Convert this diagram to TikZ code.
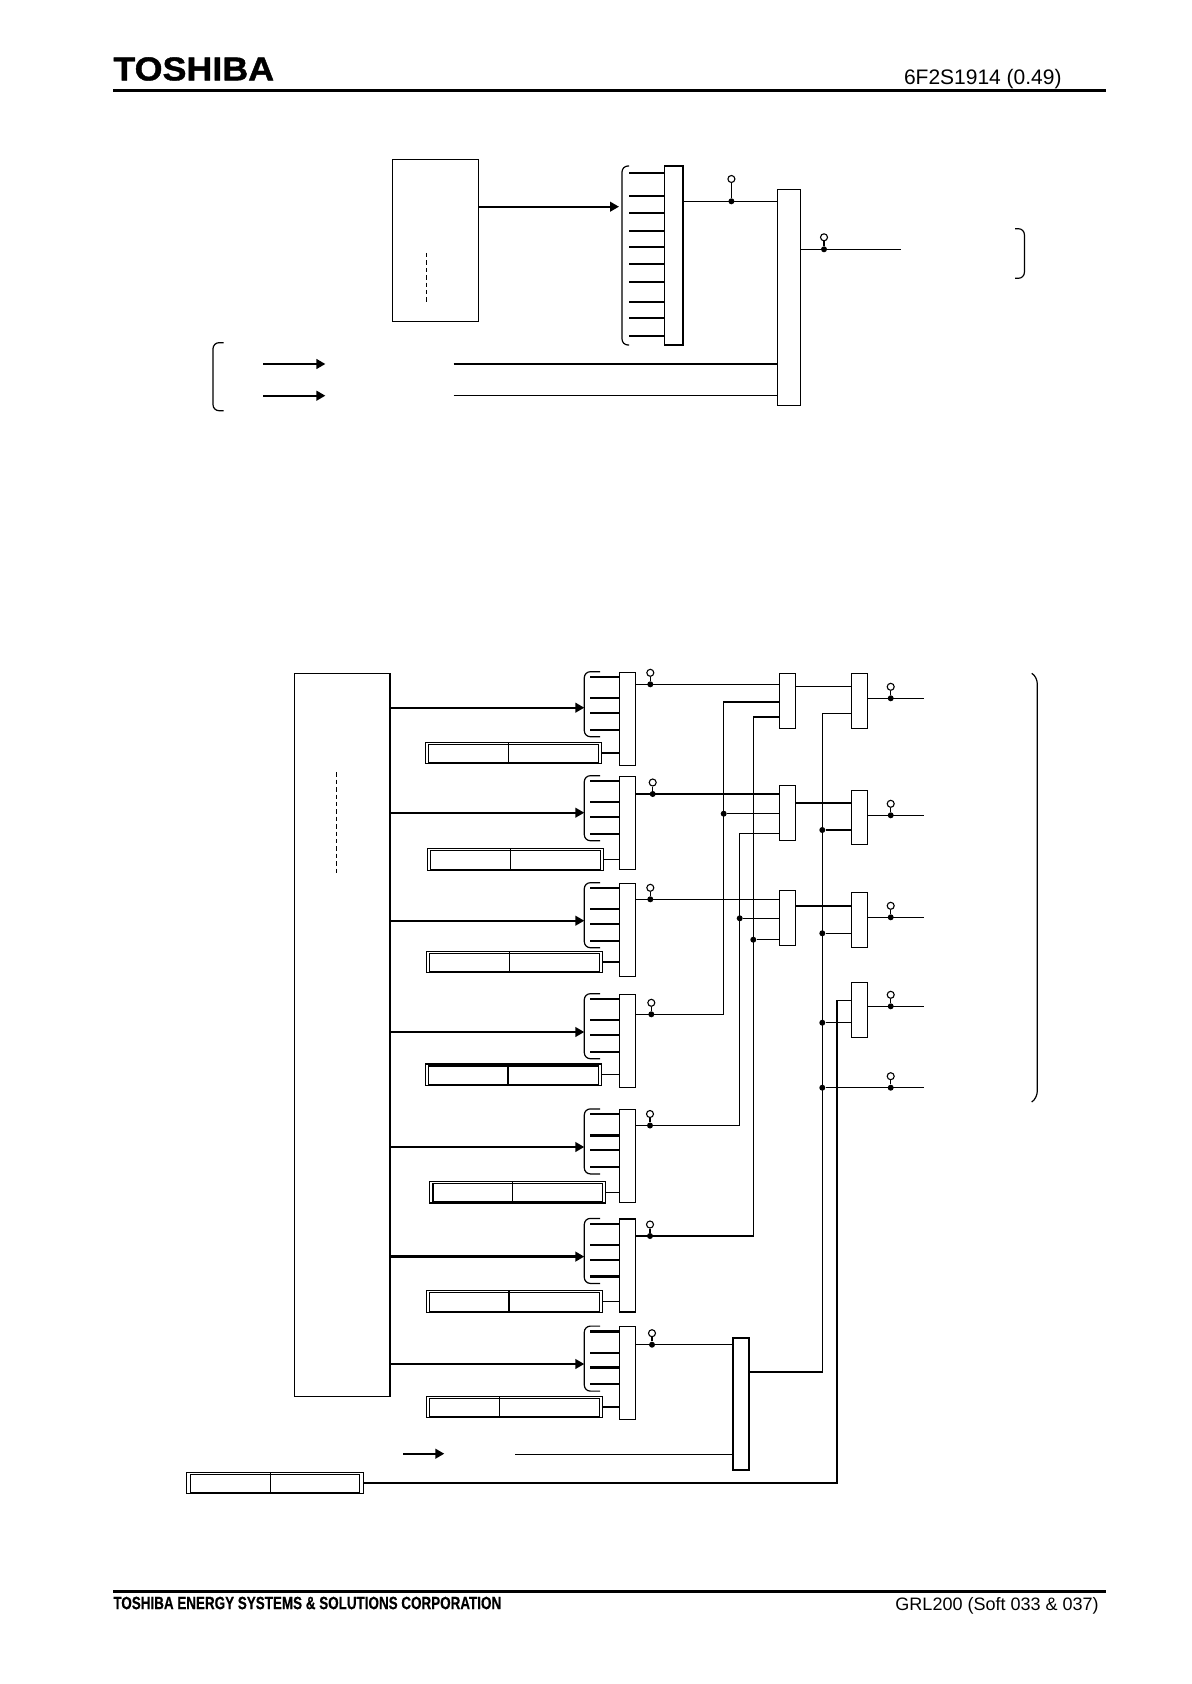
\documentclass[tikz,border=0pt]{standalone}
\usepackage{fontspec}
\setmainfont{Liberation Sans}
\newfontfamily\logofont[FakeStretch=1.08,BoldFeatures={FakeBold=1.2}]{Liberation Sans}
\newfontfamily\footfont[FakeStretch=0.755,BoldFeatures={FakeBold=0.4}]{Liberation Sans}
\usetikzlibrary{arrows.meta, positioning}

\begin{document}
\begin{tikzpicture}[
  x=0.5pt, y=-0.5pt,
  gate/.style={rectangle, draw, anchor=north west, inner sep=0pt, outer sep=0pt, minimum width=8pt, line width=0.7pt},
  src/.style={gate, minimum width=47.65pt, minimum height=361.7pt},
  setouter/.style={rectangle, draw, inner sep=0pt, outer sep=0pt, minimum width=88.2pt, minimum height=10.7pt, line width=0.6pt},
  setinner/.style={setouter, minimum width=84.7pt, minimum height=9.2pt},
  wire/.style={line width=0.65pt},
  heavy/.style={line width=1.1pt},
  lead/.style={line width=1.1pt},
  bus/.style={-{Stealth[length=4.5pt,width=4.8pt,inset=0pt]}, line width=1.15pt},
  paren/.style={line width=0.6pt, rounded corners=3pt},
  dot/.style={circle, fill=black, inner sep=0pt, minimum size=3pt},
  ring/.style={circle, draw, fill=white, inner sep=0pt, minimum size=3.5pt, line width=0.55pt},
  plate/.style={inner sep=0pt, font=\fontsize{10.5pt}{12pt}\selectfont}
]
\useasboundingbox (0,0) rectangle (1191,1684);

% page furniture
\node[plate, anchor=west, font=\logofont\bfseries\fontsize{16.6pt}{18pt}\selectfont] (logo) at (113,69) {TOSHIBA};
\node[plate, anchor=east] (docno) at (1062,79) {6F2S1914 (0.49)};
\node[plate, anchor=west, font=\footfont\bfseries\fontsize{8.9pt}{10pt}\selectfont] (company) at (113,1603) {TOSHIBA ENERGY SYSTEMS \& SOLUTIONS CORPORATION};
\node[plate, anchor=east, font=\fontsize{9pt}{11pt}\selectfont] (model) at (1099,1606) {GRL200 (Soft 033 \& 037)};
\draw[line width=1.5pt] (113,91) -- (1106,91);
\draw[line width=1.5pt] (113,1591) -- (1106,1591);

% upper scheme
\node[gate, minimum width=43pt, minimum height=81.2pt] (topsrc) at (392.4,159.3) {};
\node[gate, minimum width=9.2pt, minimum height=89.5pt] (topbus) at (664.4,166) {};
\node[gate, minimum width=11.5pt, minimum height=108.2pt] (topgate) at (777.4,189.3) {};
\coordinate (toparrow) at (619,206.7);
\coordinate (topi1) at (453.5,364);
\coordinate (topi2) at (453.5,395.7);
\coordinate (topo) at (901,249.3);
\node[dot] (dtop1) at (731.4,201.3) {};
\node[ring] (rtop1) at (731.4,179) {};
\node[dot] (dtop2) at (824,249.3) {};
\node[ring] (rtop2) at (824,237.3) {};

\draw[wire, dashed, dash pattern=on 2.2pt off 1.5pt] (426.5,253) -- (426.5,302);
\draw[bus] (topsrc.east |- toparrow) -- (toparrow);
\draw[paren] (629,166) -- (622,166) -- (622,345) -- (629,345);
\foreach \y in {172.7,196,213,231,247,263.7,281.7,301.7,318.3,336.3}
  \draw[lead] (629,\y) -- (topbus.west |- 0,\y);
\draw[wire] (topbus.east |- dtop1) -- (topgate.west |- dtop1);
\draw[wire] (dtop1) -- (rtop1);
\draw[wire] (topgate.east |- topo) -- (topo);
\draw[wire] (dtop2) -- (rtop2);
\draw[wire] (topi1) -- (topgate.west |- topi1);
\draw[wire] (topi2) -- (topgate.west |- topi2);
\draw[bus] (263,364) -- (325.4,364);
\draw[bus] (263,395.7) -- (325.4,395.7);
\draw[paren] (223.5,342.7) -- (213,342.7) -- (213,410.7) -- (223.5,410.7);
\draw[paren] (1015,228.7) -- (1024.4,228.7) -- (1024.4,278.3) -- (1015,278.3);

% lower scheme
\node[src] (big) at (294.7,673.3) {};
\draw[wire, dashed, dash pattern=on 2.2pt off 1.5pt] (336.3,772.3) -- (336.3,875);

\foreach \n/\t/\a/\sx/\sy/\dv in {
  1/672.3/35.4/513.5/753/508.3,
  2/776.3/36.4/515.5/859.5/510.3,
  3/883.3/37.4/514.5/962/509.3,
  4/994.3/37.7/513.4/1074.7/508,
  5/1109.5/37.5/517.6/1192.2/512.3,
  6/1219/37.6/514.5/1301.5/509,
  7/1326.7/37.3/514.5/1407/499.6} {
  \node[gate, minimum width=8.2pt, minimum height=46.5pt] (m\n) at (619.3,\t) {};
  \node[setouter] (s\n) at (\sx,\sy) {};
  \node[setinner] (t\n) at (\sx,\sy+0.5) {};
  \draw[wire] (s\n.north -| \dv,0) -- (s\n.south -| \dv,0);
  \draw[wire] (s\n.east) -- (m\n.west |- s\n.east);
  \coordinate (h\n) at (584.3,\t+\a);
  \draw[bus] (big.east |- h\n) -- (h\n);
  \draw[paren] (600,\t-0.6) -- (584.3,\t-0.6) -- (584.3,\t+64.4) -- (600,\t+64.4);
  \foreach \o in {4.7,26,40.7,57.4}
    \draw[lead] (590,\t+\o) -- (m\n.west |- 0,\t+\o);
}

\node[gate] (g7) at (733,1338) [minimum height=66pt] {};
\node[gate, minimum height=27.5pt] (a1) at (779.7,673.3) {};
\node[gate, minimum height=27.5pt] (a2) at (779.7,785.3) {};
\node[gate, minimum height=27.5pt] (a3) at (779.7,890.7) {};
\node[gate, minimum height=27.5pt] (b1) at (851.3,673.3) {};
\node[gate, minimum height=27pt] (b2) at (851.3,790.3) {};
\node[gate, minimum height=27.5pt] (b3) at (851.3,892.7) {};
\node[gate, minimum height=27.5pt] (b4) at (851.3,982.3) {};

\node[setouter] (s8) at (275,1483) {};
\node[setinner] (t8) at (275,1483.5) {};
\draw[wire] (s8.north -| 270.6,0) -- (s8.south -| 270.6,0);

% taps on the outputs
\foreach \n/\x/\y in {1/650.3/684.3, 2/652.7/794, 3/650.3/899.3, 4/651.3/1014.3, 5/650/1125.5,
  6/650/1236, 7/652/1344.7, b1/890.7/698.3, b2/890.7/815.3, b3/890.7/917.3, b4/890.7/1006.3, b5/890.7/1087.7} {
  \node[dot] (d\n) at (\x,\y) {};
  \node[ring] (r\n) at (\x,\y-11.5) {};
  \draw[wire] (d\n) -- (r\n);
}

\coordinate (w4) at (723.7,702);
\coordinate (w5) at (739.7,833.7);
\coordinate (w6) at (753.3,717);
\coordinate (w7) at (822.3,713.3);
\coordinate (w8) at (837,1000.3);
\coordinate (i3) at (515,1454.3);
\node[dot] (j4) at (723.7,813.7) {};
\node[dot] (j5) at (739.7,918.3) {};
\node[dot] (j6) at (753.3,939.7) {};
\node[dot] (jb2) at (822.3,830) {};
\node[dot] (jb3) at (822.3,933.3) {};
\node[dot] (jb4) at (822.3,1022.7) {};
\node[dot] (jb5) at (822.3,1087.7) {};
\coordinate (ob1) at (924,698.3);
\coordinate (ob2) at (924,815.3);
\coordinate (ob3) at (924,917.3);
\coordinate (ob4) at (924,1006.3);
\coordinate (ob5) at (924,1087.7);

\draw[wire] (m1.east |- d1) -- (a1.west |- d1);
\draw[wire] (m2.east |- d2) -- (a2.west |- d2);
\draw[wire] (m3.east |- d3) -- (a3.west |- d3);
\draw[wire] (m4.east |- d4) -| (w4) -- (a1.west |- w4);
\draw[wire] (m5.east |- d5) -| (w5) -- (a2.west |- w5);
\draw[wire] (m6.east |- d6) -| (w6) -- (a1.west |- w6);
\draw[wire] (m7.east |- d7) -- (g7.west |- d7);
\draw[wire] (j4) -- (a2.west |- j4);
\draw[wire] (j5) -- (a3.west |- j5);
\draw[wire] (j6) -- (a3.west |- j6);
\draw[wire] (a1.east |- 0,686.3) -- (b1.west |- 0,686.3);
\draw[heavy] (a2.east |- 0,802.7) -- (b2.west |- 0,802.7);
\draw[heavy] (a3.east |- 0,905.7) -- (b3.west |- 0,905.7);
\draw[wire] (g7.east |- 0,1372) -| (w7) -- (b1.west |- w7);
\draw[heavy] (jb2) -- (b2.west |- jb2);
\draw[wire] (jb3) -- (b3.west |- jb3);
\draw[wire] (jb4) -- (b4.west |- jb4);
\draw[wire] (jb5) -- (ob5);
\draw[wire] (b1.east |- ob1) -- (ob1);
\draw[wire] (b2.east |- ob2) -- (ob2);
\draw[wire] (b3.east |- ob3) -- (ob3);
\draw[wire] (b4.east |- ob4) -- (ob4);
\draw[wire] (s8.east) -| (w8) -- (b4.west |- w8);
\draw[wire] (i3) -- (g7.west |- i3);
\draw[bus] (403.3,1453.7) -- (444.3,1453.7);
\draw[paren] (1031.7,673.3) .. controls (1035,675) and (1037.3,680) .. (1037.3,690) -- (1037.3,1085) .. controls (1037.3,1095) and (1035,1100) .. (1031.7,1102);
\end{tikzpicture}
\end{document}
